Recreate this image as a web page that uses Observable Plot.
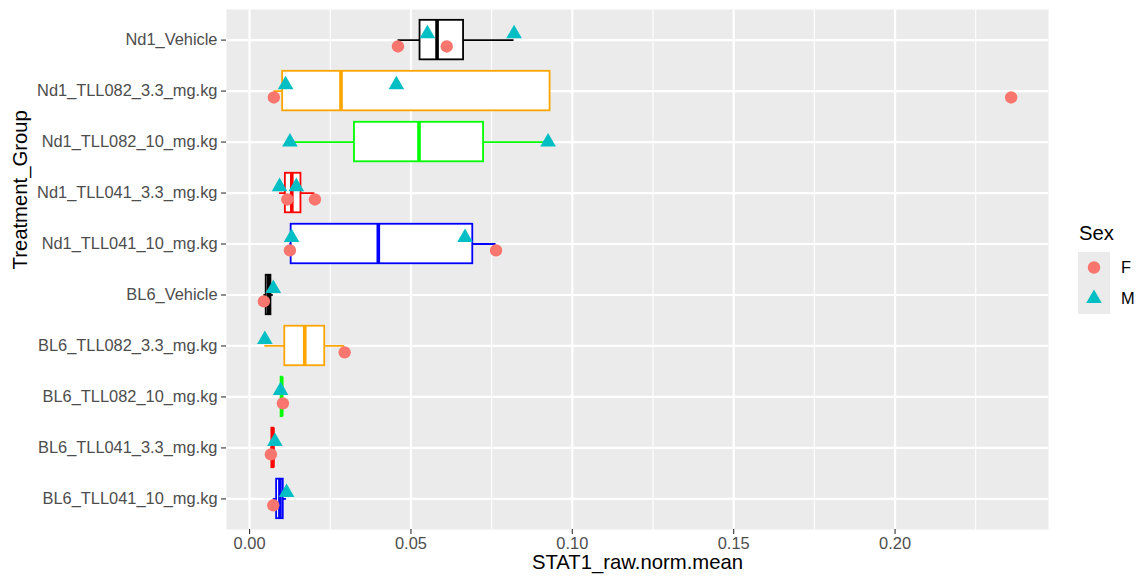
<!DOCTYPE html>
<html><head><meta charset="utf-8">
<script src="https://cdn.jsdelivr.net/npm/d3@7"></script>
<script src="https://cdn.jsdelivr.net/npm/@observablehq/plot@0.6"></script>
<style>
body{margin:0;background:#fff;font-family:"Liberation Sans",Arial,sans-serif;}
#wrap{position:relative;width:1143px;height:584px;}
#legend{position:absolute;left:1070px;top:215px;}
</style></head><body>
<div id="wrap"><div id="chart"></div><svg id="legend" width="73" height="110"></svg></div>
<script>
const groups = ["Nd1_Vehicle","Nd1_TLL082_3.3_mg.kg","Nd1_TLL082_10_mg.kg","Nd1_TLL041_3.3_mg.kg","Nd1_TLL041_10_mg.kg","BL6_Vehicle","BL6_TLL082_3.3_mg.kg","BL6_TLL082_10_mg.kg","BL6_TLL041_3.3_mg.kg","BL6_TLL041_10_mg.kg"];
const groupColors = ["black","orange","#00FF00","red","blue","black","orange","#00FF00","red","blue"];
const femaleValues = [[0.04598,0.06109],[0.00753,0.23597],[],[0.01169,0.02025],[0.0125,0.07637],[0.00443],[0.02946],[0.01033],[0.0066],[0.00735]];
const maleValues = [[0.0551,0.08195],[0.01116,0.04549],[0.0125,0.0925],[0.0093,0.01448],[0.01302,0.06676],[0.00735],[0.00474],[0.00961],[0.00784],[0.01147]];
const xTicks = [0, 0.05, 0.10, 0.15, 0.20];
const xMinorTicks = [0.025, 0.075, 0.125, 0.175, 0.225];
const sexes = ["F","M"];
const sexColors = ["#F8766D","#00BFC4"];
const xTitle = "STAT1_raw.norm.mean";
const yTitle = "Treatment_Group";
const legendTitle = "Sex";

const points = [];
groups.forEach((g,i)=>{
  const nSex = (femaleValues[i].length>0) + (maleValues[i].length>0);
  femaleValues[i].forEach(v=>points.push({group:g, sex:"F", value:v, dodged:nSex>1}));
  maleValues[i].forEach(v=>points.push({group:g, sex:"M", value:v, dodged:nSex>1}));
});
const stats = groups.map((g,i)=>{
  const vals = femaleValues[i].concat(maleValues[i]).sort(d3.ascending);
  const q1 = d3.quantile(vals,.25), med = d3.quantile(vals,.5), q3 = d3.quantile(vals,.75);
  const iqr = q3-q1;
  const inside = vals.filter(v=>v>=q1-1.5*iqr && v<=q3+1.5*iqr);
  return {group:g, color:groupColors[i], q1, med, q3, lo:Math.min(q1,d3.min(inside)), hi:Math.max(q3,d3.max(inside))};
});
const [vmin, vmax] = d3.extent(points, d=>d.value);
const pad = (vmax-vmin)*0.05;

const rC = 6.2, rT = 5.8, dodge = 6.4;
const dotMarks = [];
for (const dodged of [true,false]) {
  sexes.forEach((s,k)=>{
    dotMarks.push(Plot.dot(points.filter(p=>p.sex===s && p.dodged===dodged), {
      x:"value", y:"group", fill:sexColors[k], stroke:"none",
      symbol: s==="F" ? "circle" : "triangle", r: s==="F" ? rC : rT,
      dy: dodged ? (s==="F" ? dodge : -dodge) : 0
    }));
  });
}

const chart = Plot.plot({
  width:1143, height:584,
  marginLeft:226, marginRight:95, marginTop:9, marginBottom:55,
  style:{fontFamily:"'Liberation Sans', Arial, sans-serif", fontSize:"16px", background:"white", overflow:"visible"},
  x:{domain:[vmin-pad, vmax+pad]},
  y:{type:"band", domain:groups, paddingInner:0.225, paddingOuter:0.2125, align:0.5, round:false},
  color:{type:"identity"},
  marks:[
    Plot.frame({fill:"#EBEBEB", stroke:"none"}),
    Plot.gridX(xMinorTicks, {stroke:"white", strokeOpacity:1, strokeWidth:1.1}),
    Plot.gridX(xTicks, {stroke:"white", strokeOpacity:1, strokeWidth:2.2}),
    Plot.gridY(groups, {stroke:"white", strokeOpacity:1, strokeWidth:2.2}),
    Plot.axisX(xTicks, {tickFormat:d3.format(".2f"), tickSize:5, tickPadding:3, fontSize:16.4, fill:"#4D4D4D", stroke:"#333333", strokeWidth:1.1, label:null}),
    Plot.axisY({tickSize:5, tickPadding:4, fontSize:16.4, fill:"#4D4D4D", stroke:"#333333", strokeWidth:1.1, label:null}),
    Plot.text([xTitle], {frameAnchor:"bottom", dy:39, fontSize:20.3, fill:"black"}),
    Plot.text([yTitle], {frameAnchor:"left", dx:-206, rotate:-90, fontSize:20.3, fill:"black"}),
    Plot.ruleY(stats, {y:"group", x1:"lo", x2:"hi", stroke:"color", strokeWidth:1.8}),
    Plot.barX(stats, {y:"group", x1:"q1", x2:"q3", fill:"white", stroke:"color", strokeWidth:1.8}),
    Plot.tickX(stats, {y:"group", x:"med", stroke:"color", strokeWidth:3.6}),
    ...dotMarks
  ]
});
document.getElementById("chart").appendChild(chart);

// legend
const lg = d3.select("#legend");
lg.append("text").attr("x",9).attr("y",25).attr("font-size",20.3).attr("fill","black").text(legendTitle);
lg.append("rect").attr("x",8).attr("y",37).attr("width",32).attr("height",62).attr("fill","#EBEBEB");
sexes.forEach((s,k)=>{
  const cy = 37 + 15.5 + k*31;
  const r = s==="F" ? rC : rT;
  lg.append("path").attr("transform",`translate(24,${cy})`)
    .attr("d", d3.symbol(s==="F" ? d3.symbolCircle : d3.symbolTriangle, Math.PI*r*r)())
    .attr("fill", sexColors[k]);
  lg.append("text").attr("x",51).attr("y",cy).attr("dy","0.35em").attr("font-size",16.4).attr("fill","black").text(s);
});
</script>
</body></html>
